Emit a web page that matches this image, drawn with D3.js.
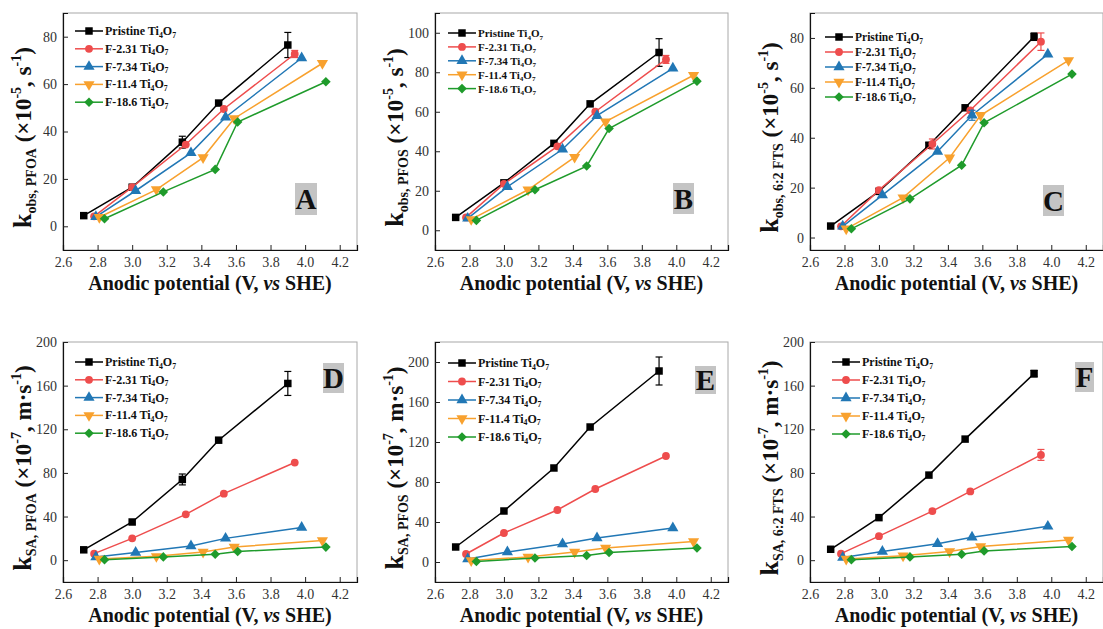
<!DOCTYPE html>
<html>
<head>
<meta charset="utf-8">
<script src="https://cdn.jsdelivr.net/npm/d3@7"></script>
<style>
  body { margin: 0; background: #fff; }
  svg, svg text { font-family: "Liberation Serif", "Tinos", "Times New Roman", "DejaVu Serif", serif; }
</style>
</head>
<body>
<svg id="chart" width="1103" height="629"></svg>
<script>
// series (same anodic potentials in every panel)
const seriesNames = ["Pristine", "F-2.31", "F-7.34", "F-11.4", "F-18.6"];
const seriesColors = ["#000000", "#ee4d4d", "#2177b5", "#f8a12e", "#1f9b2b"];

const xPristine = [2.72, 3.00, 3.29, 3.50, 3.90];
const xF231 = [2.78, 3.00, 3.31, 3.53, 3.94];
const xF734 = [2.79, 3.02, 3.34, 3.54, 3.98];
const xF114 = [2.81, 3.14, 3.41, 3.59, 4.10];
const xF186 = [2.84, 3.18, 3.48, 3.61, 4.12];
const xSeries = [xPristine, xF231, xF734, xF114, xF186];

// k_obs (x10^-5 s^-1)
const kobsPFOA = [
  [4.5, 16.5, 35.5, 52, 76.5],
  [4.2, 16.5, 34.5, 49.5, 72.7],
  [4.0, 15, 31, 46, 71],
  [3.8, 15.5, 29, 45.5, 68.8],
  [3.2, 14.5, 24, 44, 61]
];
const errObsPFOA = [[0, 0, 2.5, 0, 5.3], [0, 0, 0, 0, 1.5], [0, 0, 0, 0, 0], [0, 0, 0, 0, 0], [0, 0, 0, 0, 0]];

const kobsPFOS = [
  [6.5, 24, 44, 64, 90],
  [6.5, 23.5, 42.5, 60, 86.5],
  [6, 22, 41, 58, 82],
  [5.5, 20.5, 37, 55, 78.5],
  [5, 20.5, 32.5, 51.5, 75.5]
];
const errObsPFOS = [[0, 0, 0, 0, 7], [0, 0, 0, 0, 2], [0, 0, 0, 0, 0], [0, 0, 0, 0, 0], [0, 0, 0, 0, 0]];

const kobsFTS = [
  [4.6, 18.5, 37, 52, 80.5],
  [4.5, 19, 37.5, 51, 78.5],
  [4.5, 17, 34.5, 49, 73.5],
  [3.5, 16, 32, 49, 71],
  [3.5, 15.5, 29, 46, 65.5]
];
const errObsFTS = [[0, 0, 1, 0, 1.5], [0, 0, 2, 0, 3.5], [0, 0, 0, 2, 0], [0, 0, 0, 0, 0], [0, 0, 0, 0, 0]];

// k_SA (x10^-7 m s^-1)
const ksaPFOA = [
  [9.5, 35, 74, 110, 162],
  [6, 20, 42, 61, 89.5],
  [3, 7, 13, 20, 30],
  [1, 3.5, 7.5, 12, 18],
  [0.5, 3, 5.5, 8, 12]
];
const errSaPFOA = [[0, 0, 5, 0, 11], [0, 0, 0, 0, 0], [0, 0, 0, 0, 0], [0, 0, 0, 0, 0], [0, 0, 0, 0, 0]];

const ksaPFOS = [
  [15, 51, 94, 135, 191],
  [8, 29, 52, 73, 106],
  [3, 10, 18, 24, 34],
  [1.5, 5, 10, 14, 20.5],
  [0.5, 4, 6.5, 9.5, 14]
];
const errSaPFOS = [[0, 0, 0, 0, 14], [0, 0, 0, 0, 0], [0, 0, 0, 0, 0], [0, 0, 0, 0, 0], [0, 0, 0, 0, 0]];

const ksaFTS = [
  [10, 39, 78, 111, 171],
  [6, 22, 45, 63, 96.5],
  [2.5, 8, 15, 21, 31],
  [1, 4, 8, 12.5, 18.5],
  [0.5, 3, 5.5, 8.5, 12.5]
];
const errSaFTS = [[0, 0, 0, 0, 3], [0, 0, 0, 0, 5], [0, 0, 0, 0, 0], [0, 0, 0, 0, 0], [0, 0, 0, 0, 0]];

// tick labels
const xTicks = [2.6, 2.8, 3.0, 3.2, 3.4, 3.6, 3.8, 4.0, 4.2];
const yTicksA = [0, 20, 40, 60, 80];
const yTicksB = [0, 20, 40, 60, 80, 100];
const yTicksC = [0, 20, 40, 60, 80];
const yTicksSA = [0, 40, 80, 120, 160, 200];

const panels = [
  { letter: "A", left: 63, top: 13, w: 294, h: 237, yDomain: [-10, 90], yTicks: yTicksA, minor: 10,
    values: kobsPFOA, errs: errObsPFOA, kind: "obs", sub: "obs, PFOA",
    legX: 12, legY: 18, legStep: 17.8, legFont: 12, box: [232, 170, 22, 32] },
  { letter: "B", left: 435, top: 13, w: 293, h: 237, yDomain: [-10, 110], yTicks: yTicksB, minor: 10,
    values: kobsPFOS, errs: errObsPFOS, kind: "obs", sub: "obs, PFOS",
    legX: 13, legY: 20, legStep: 13.9, legFont: 11, box: [238, 170, 21, 31] },
  { letter: "C", left: 810, top: 13, w: 293, h: 237, yDomain: [-5, 90], yTicks: yTicksC, minor: 10,
    values: kobsFTS, errs: errObsFTS, kind: "obs", sub: "obs, 6:2 FTS",
    legX: 15, legY: 24, legStep: 15, legFont: 11.5, box: [233, 172, 21, 31] },
  { letter: "D", left: 63, top: 342, w: 294, h: 240, yDomain: [-20, 200], yTicks: yTicksSA, minor: 20,
    values: ksaPFOA, errs: errSaPFOA, kind: "sa", sub: "SA, PFOA",
    legX: 12, legY: 20, legStep: 17.8, legFont: 12, box: [260, 21, 21, 30] },
  { letter: "E", left: 435, top: 342, w: 293, h: 240, yDomain: [-20, 220], yTicks: yTicksSA, minor: 20,
    values: ksaPFOS, errs: errSaPFOS, kind: "sa", sub: "SA, PFOS",
    legX: 13, legY: 21, legStep: 18.5, legFont: 12, box: [260, 24, 21, 28] },
  { letter: "F", left: 810, top: 342, w: 293, h: 240, yDomain: [-20, 200], yTicks: yTicksSA, minor: 20,
    values: ksaFTS, errs: errSaFTS, kind: "sa", sub: "SA, 6:2 FTS",
    legX: 22, legY: 20, legStep: 18, legFont: 12, box: [265, 20, 19, 30] }
];

const svg = d3.select("#chart");
const SERIF = "'Liberation Serif', Tinos, 'Times New Roman', 'DejaVu Serif', serif";

function markerPath(i) {
  if (i === 0) return d3.symbol(d3.symbolSquare, 56)();
  if (i === 1) return d3.symbol(d3.symbolCircle, 48)();
  if (i === 2 || i === 3) return d3.symbol(d3.symbolTriangle, 54)();
  return d3.symbol(d3.symbolSquare, 46)();
}
function markerRotate(i) {
  if (i === 3) return " rotate(180)";
  if (i === 4) return " rotate(45)";
  return "";
}

function drawPanel(p) {
  const g = svg.append("g").attr("transform", `translate(${p.left},${p.top})`)
    .attr("font-family", SERIF);
  const x = d3.scaleLinear().domain([2.6, 4.3]).range([0, p.w]);
  const y = d3.scaleLinear().domain(p.yDomain).range([p.h, 0]);

  // frame: gray top/right
  g.append("rect").attr("width", p.w).attr("height", p.h)
    .attr("fill", "none").attr("stroke", "#a8a8a8").attr("stroke-width", 1);

  // x axis (inward ticks)
  const xAxis = g.append("g").attr("transform", `translate(0,${p.h})`);
  xAxis.call(d3.axisBottom(x).tickValues(d3.range(2.7, 4.3, 0.2)).tickSize(-3).tickFormat(""));
  xAxis.call(d3.axisBottom(x).tickValues(xTicks).tickSize(-5).tickPadding(6).tickFormat(d3.format(".1f")));
  xAxis.selectAll(".domain").attr("stroke", "#111").attr("stroke-width", 1.2);

  const yAxis = g.append("g");
  const minorVals = d3.range(p.yDomain[0], p.yDomain[1], p.minor)
    .filter(v => !p.yTicks.includes(v) && v > p.yDomain[0]);
  yAxis.call(d3.axisLeft(y).tickValues(minorVals).tickSize(-3).tickFormat(""));
  yAxis.call(d3.axisLeft(y).tickValues(p.yTicks).tickSize(-5).tickPadding(6).tickFormat(d3.format("d")));
  yAxis.selectAll(".domain").attr("stroke", "#111").attr("stroke-width", 1.2);

  xAxis.attr("font-family", SERIF).attr("font-size", 14);
  yAxis.attr("font-family", SERIF).attr("font-size", 14);
  g.selectAll(".tick line").attr("stroke", "#222");
  g.selectAll(".tick text").attr("fill", "#333");
  xAxis.selectAll(".tick text").attr("dy", "0.75em");

  // series
  const line = d3.line().x(d => x(d[0])).y(d => y(d[1]));
  p.values.forEach((vals, i) => {
    const pts = vals.map((v, j) => [xSeries[i][j], v, p.errs[i][j]]);
    const color = seriesColors[i];
    g.append("path").datum(pts).attr("d", line)
      .attr("fill", "none").attr("stroke", color).attr("stroke-width", 1.5);

    pts.filter(d => d[2] > 0).forEach(d => {
      const eg = g.append("g").attr("stroke", color).attr("stroke-width", 1.2);
      eg.append("line").attr("x1", x(d[0])).attr("x2", x(d[0]))
        .attr("y1", y(d[1] - d[2])).attr("y2", y(d[1] + d[2]));
      [d[1] - d[2], d[1] + d[2]].forEach(v => {
        eg.append("line").attr("x1", x(d[0]) - 3.5).attr("x2", x(d[0]) + 3.5)
          .attr("y1", y(v)).attr("y2", y(v));
      });
    });

    g.selectAll(null).data(pts).enter().append("path")
      .attr("d", markerPath(i))
      .attr("transform", d => `translate(${x(d[0])},${y(d[1])})` + markerRotate(i))
      .attr("fill", color);
  });

  // legend
  const leg = g.append("g").attr("transform", `translate(${p.legX},${p.legY})`);
  seriesNames.forEach((name, i) => {
    const row = leg.append("g").attr("transform", `translate(0,${i * p.legStep})`);
    row.append("line").attr("x1", 0).attr("x2", 28).attr("stroke", seriesColors[i]).attr("stroke-width", 1.5);
    row.append("path").attr("d", markerPath(i))
      .attr("transform", "translate(14,0)" + markerRotate(i)).attr("fill", seriesColors[i]);
    const t = row.append("text").attr("x", 30).attr("y", 4)
      .attr("font-size", p.legFont).attr("font-weight", "bold").attr("fill", "#111");
    t.append("tspan").text(name + " Ti");
    t.append("tspan").attr("dy", 2.5).attr("font-size", p.legFont * 0.65).text("4");
    t.append("tspan").attr("dy", -2.5).text("O");
    t.append("tspan").attr("dy", 2.5).attr("font-size", p.legFont * 0.65).text("7");
  });

  // panel letter
  g.append("rect").attr("x", p.box[0]).attr("y", p.box[1]).attr("width", p.box[2]).attr("height", p.box[3])
    .attr("fill", "#c4c4c4");
  g.append("text").attr("x", p.box[0] + p.box[2] / 2).attr("y", p.box[1] + p.box[3] / 2 + 10)
    .attr("text-anchor", "middle").attr("font-size", 29).attr("font-weight", "bold")
    .attr("fill", "#111").text(p.letter);

  // x label
  const xl = g.append("text").attr("x", p.w / 2).attr("y", p.h + 40)
    .attr("text-anchor", "middle").attr("font-size", 20).attr("font-weight", "bold").attr("fill", "#111");
  xl.append("tspan").text("Anodic potential (V, ");
  xl.append("tspan").attr("font-style", "italic").text("vs");
  xl.append("tspan").text(" SHE)");

  // y label
  const yl = g.append("text")
    .attr("transform", `translate(-32,${p.h / 2 + 6}) rotate(-90)`)
    .attr("text-anchor", "middle").attr("font-weight", "bold").attr("fill", "#111");
  yl.append("tspan").attr("font-size", 26).text("k");
  yl.append("tspan").attr("dy", 5).attr("font-size", 14).text(p.sub);
  yl.append("tspan").attr("dy", -5).attr("font-size", 23).text(" (×10");
  yl.append("tspan").attr("dy", -10).attr("font-size", 14).text(p.kind === "obs" ? "-5" : "-7");
  yl.append("tspan").attr("dy", 10).attr("font-size", 23).text(p.kind === "obs" ? ", s" : ", m·s");
  yl.append("tspan").attr("dy", -10).attr("font-size", 14).text("-1");
  yl.append("tspan").attr("dy", 10).attr("font-size", 23).text(")");
}

panels.forEach(drawPanel);
</script>
</body>
</html>
